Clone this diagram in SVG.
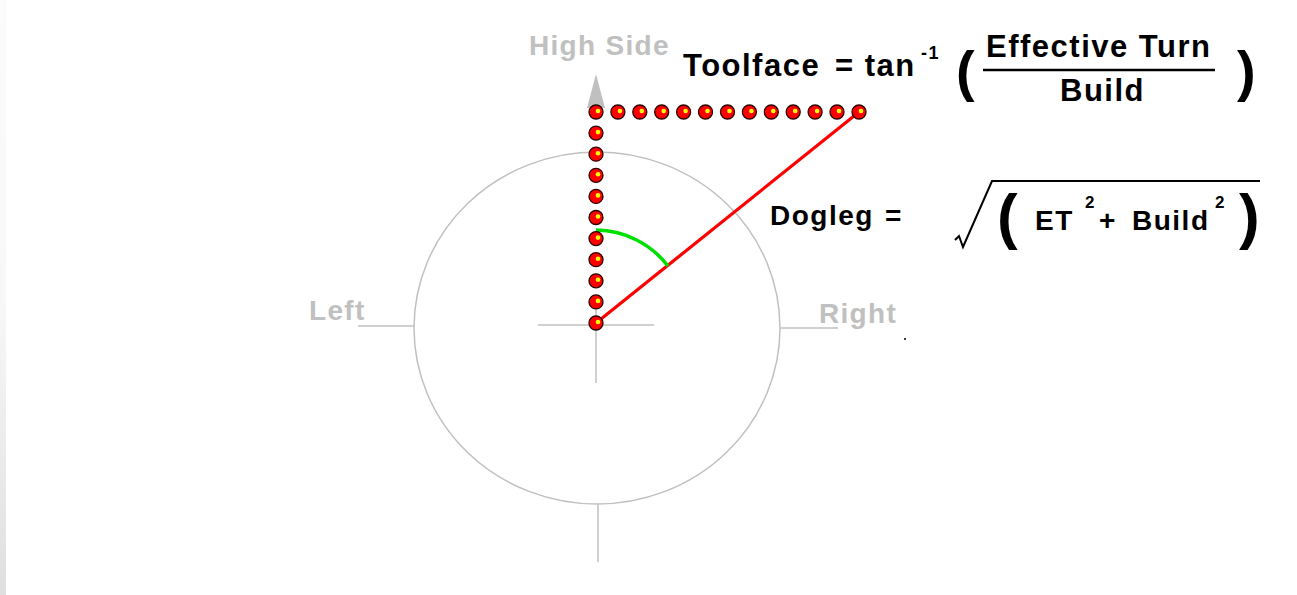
<svg xmlns="http://www.w3.org/2000/svg" width="1297" height="595" viewBox="0 0 1297 595">
<defs>
<linearGradient id="edge" x1="0" y1="0" x2="0" y2="1">
<stop offset="0" stop-color="#fbfbfb"/>
<stop offset="0.5" stop-color="#f8f8f8"/>
<stop offset="1" stop-color="#dfdfdf"/>
</linearGradient>
<g id="dot">
<circle r="7" fill="#ff0000" stroke="#2a0000" stroke-width="1.3"/>
<circle cx="2" cy="-1" r="2.3" fill="#ffff00"/>
</g>
</defs>
<style>
.axis{stroke:#c0c0c0;stroke-width:1.5;fill:none}
.gray{font-family:"Liberation Sans",Arial,sans-serif;font-weight:bold;font-size:28px;fill:#c0c0c0;letter-spacing:1.3px}
.eq{font-family:"Liberation Sans",Arial,sans-serif;font-weight:bold;fill:#000;letter-spacing:1.5px}
</style>
<rect width="1297" height="595" fill="#ffffff"/>
<rect x="0" y="0" width="6" height="595" fill="url(#edge)"/>
<g id="dial">
<ellipse class="axis" cx="597" cy="328" rx="183" ry="176"/>
<line class="axis" x1="538" y1="325" x2="654" y2="325"/>
<line class="axis" x1="596" y1="300" x2="596" y2="383"/>
<line class="axis" x1="358" y1="326" x2="414" y2="326"/>
<line class="axis" x1="780" y1="328" x2="838" y2="328"/>
<line class="axis" x1="598" y1="504" x2="598" y2="562"/>
<polygon points="596,74 587,108 605,108" fill="#c0c0c0"/>
</g>
<g id="labels">
<text class="gray" x="529" y="55">High Side</text>
<text class="gray" x="309" y="320">Left</text>
<text class="gray" x="819" y="323">Right</text>
<circle cx="905" cy="339" r="1" fill="#000"/>
</g>
<g id="connectors">
<line x1="596" y1="323" x2="859" y2="112" stroke="#ff0000" stroke-width="3.2"/>
<path d="M596,230 A92,92 0 0 1 668,266" fill="none" stroke="#00e000" stroke-width="3.5"/>
</g>
<g id="dots">
<use href="#dot" x="596" y="112"/>
<use href="#dot" x="617.9" y="112"/>
<use href="#dot" x="639.8" y="112"/>
<use href="#dot" x="661.7" y="112"/>
<use href="#dot" x="683.6" y="112"/>
<use href="#dot" x="705.5" y="112"/>
<use href="#dot" x="727.5" y="112"/>
<use href="#dot" x="749.4" y="112"/>
<use href="#dot" x="771.3" y="112"/>
<use href="#dot" x="793.2" y="112"/>
<use href="#dot" x="815.1" y="112"/>
<use href="#dot" x="837" y="112"/>
<use href="#dot" x="859" y="112"/>
<use href="#dot" x="596" y="133.1"/>
<use href="#dot" x="596" y="154.2"/>
<use href="#dot" x="596" y="175.3"/>
<use href="#dot" x="596" y="196.4"/>
<use href="#dot" x="596" y="217.5"/>
<use href="#dot" x="596" y="238.6"/>
<use href="#dot" x="596" y="259.7"/>
<use href="#dot" x="596" y="280.8"/>
<use href="#dot" x="596" y="301.9"/>
<use href="#dot" x="596" y="323"/>
</g>
<g id="toolface">
<text class="eq" x="683" y="76" font-size="31">Toolface</text>
<text class="eq" x="835" y="76" font-size="31">= tan</text>
<text class="eq" x="921" y="59" font-size="18">-1</text>
<text class="eq" x="956" y="90" font-size="56">(</text>
<text class="eq" x="986" y="57" font-size="31">Effective Turn</text>
<line x1="983" y1="70" x2="1215" y2="70" stroke="#000" stroke-width="2.5"/>
<text class="eq" x="1060" y="101" font-size="31">Build</text>
<text class="eq" x="1237" y="90" font-size="56">)</text>
</g>
<g id="dogleg">
<text class="eq" x="770" y="225" font-size="28">Dogleg</text>
<text class="eq" x="885" y="225" font-size="28">=</text>
<path d="M955,240 L959,236 L963,247 L992,181 L1260,181" fill="none" stroke="#000" stroke-width="2"/>
<text class="eq" x="997" y="237" font-size="62">(</text>
<text class="eq" x="1035" y="230" font-size="28">ET</text>
<text class="eq" x="1085" y="208" font-size="17">2</text>
<text class="eq" x="1099" y="230" font-size="28">+</text>
<text class="eq" x="1132" y="230" font-size="28">Build</text>
<text class="eq" x="1215" y="208" font-size="17">2</text>
<text class="eq" x="1239" y="237" font-size="62">)</text>
</g>
</svg>
